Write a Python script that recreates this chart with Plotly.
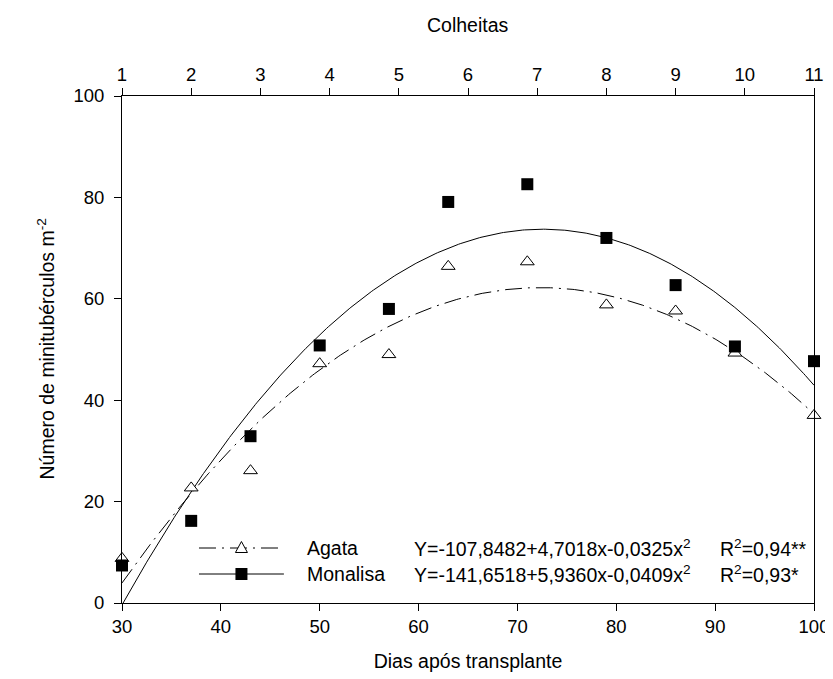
import numpy as np
import plotly.graph_objects as go

# ---- data ----
days = [30, 37, 43, 50, 57, 63, 71, 79, 86, 92, 100]
harvests = [1, 2, 3, 4, 5, 6, 7, 8, 9, 10, 11]
agata = [8.8, 22.7, 26.1, 47.2, 49.0, 66.4, 67.3, 58.8, 57.6, 49.3, 37.0]
monalisa = [7.4, 16.2, 32.9, 50.8, 58.0, 79.1, 82.6, 72.0, 62.7, 50.6, 47.7]
agata_coef = [-107.8482, 4.7018, -0.0325]
monalisa_coef = [-141.6518, 5.9360, -0.0409]
x_ticks = [30, 40, 50, 60, 70, 80, 90, 100]
y_ticks = [0, 20, 40, 60, 80, 100]
names = ["Agata", "Monalisa"]
equations = ["Y=-107,8482+4,7018x-0,0325x<sup>2</sup>", "Y=-141,6518+5,9360x-0,0409x<sup>2</sup>"]
r2_texts = ["R<sup>2</sup>=0,94**", "R<sup>2</sup>=0,93*"]

FONT = "Liberation Sans, Arial, sans-serif"
FS = 19.5
TFS = 18.5
DASHDOT = "17px,6px,2px,6px"

xs = np.linspace(days[0], days[-1], 400)
def fit(c):
    return c[0] + c[1] * xs + c[2] * xs ** 2

fig = go.Figure()
fig.add_trace(go.Scatter(x=xs, y=fit(agata_coef), mode="lines",
                         line=dict(color="black", width=1, dash=DASHDOT),
                         showlegend=False, hoverinfo="skip"))
fig.add_trace(go.Scatter(x=xs, y=fit(monalisa_coef), mode="lines",
                         line=dict(color="black", width=1),
                         showlegend=False, hoverinfo="skip"))
fig.add_trace(go.Scatter(x=days, y=agata, mode="markers", name="Agata",
                         marker=dict(symbol="triangle-up", size=12, color="white",
                                     line=dict(color="black", width=1)),
                         cliponaxis=False, showlegend=False))
fig.add_trace(go.Scatter(x=days, y=monalisa, mode="markers", name="Monalisa",
                         marker=dict(symbol="square", size=12, color="black",
                                     line=dict(width=0)),
                         cliponaxis=False, showlegend=False))
# top axis (harvests)
fig.add_trace(go.Scatter(x=harvests, y=[None] * len(harvests), xaxis="x2",
                         mode="markers", showlegend=False, hoverinfo="skip"))

# ---- manual legend ----
L, R, T, B = 114, 18, 88, 84
W, H = 833, 679
pw, ph = W - L - R, H - T - B
def px(xp):
    return (xp - L) / pw
def py(yp):
    return (H - B - yp) / ph

rows = [540, 566]
shapes = []
annotations = []
for i, yrow in enumerate(rows):
    shapes.append(dict(type="line", xref="paper", yref="paper",
                       x0=px(192), x1=px(278), y0=py(yrow), y1=py(yrow),
                       line=dict(color="black", width=1,
                                 dash=DASHDOT if i == 0 else "solid")))
    if i == 0:
        shapes.append(dict(type="path", xref="paper", yref="paper",
                           xsizemode="pixel", ysizemode="pixel",
                           xanchor=px(235), yanchor=py(yrow),
                           path="M-6,-4.5 L6,-4.5 L0,6.5 Z",
                           fillcolor="white", line=dict(color="black", width=1)))
    else:
        shapes.append(dict(type="rect", xref="paper", yref="paper",
                           xsizemode="pixel", ysizemode="pixel",
                           xanchor=px(235), yanchor=py(yrow),
                           x0=-6, x1=6, y0=-6, y1=6,
                           fillcolor="black", line=dict(width=0)))
    for xt, txt in [(299, names[i]), (408, equations[i]), (718, r2_texts[i])]:
        annotations.append(dict(xref="paper", yref="paper", x=px(xt), y=py(yrow),
                                xanchor="left", yanchor="middle", text=txt,
                                showarrow=False, font=dict(family=FONT, size=FS, color="black")))

# axis titles placed as annotations
annotations.append(dict(xref="paper", yref="paper", x=px(36), y=0.5,
                        xanchor="center", yanchor="middle", textangle=-90,
                        text="Número de minitubérculos m<sup>-2</sup>", showarrow=False,
                        font=dict(family=FONT, size=FS, color="black")))
annotations.append(dict(xref="paper", yref="paper", x=0.5, y=py(17),
                        xanchor="center", yanchor="middle",
                        text="Colheitas", showarrow=False,
                        font=dict(family=FONT, size=FS, color="black")))

axis_common = dict(ticks="outside", ticklen=7, tickwidth=1, tickcolor="black",
                   showline=True, linecolor="black", linewidth=1,
                   showgrid=False, zeroline=False,
                   tickfont=dict(family=FONT, size=TFS, color="black"))

fig.update_layout(
    width=W, height=H,
    margin=dict(l=L, r=R, t=T, b=B),
    paper_bgcolor="white", plot_bgcolor="white",
    font=dict(family=FONT, size=FS, color="black"),
    showlegend=False,
    shapes=shapes, annotations=annotations,
    xaxis=dict(range=[30, 100], tickvals=x_ticks, **axis_common,
               title=dict(text="Dias após transplante", standoff=18,
                          font=dict(family=FONT, size=FS))),
    xaxis2=dict(range=[1, 11], tickvals=harvests, overlaying="x", side="top",
                anchor="y", **axis_common),
    yaxis=dict(range=[0, 100], tickvals=y_ticks, mirror=True,
               ticklabelstandoff=6, **axis_common),
)

fig.write_html("out.html")
